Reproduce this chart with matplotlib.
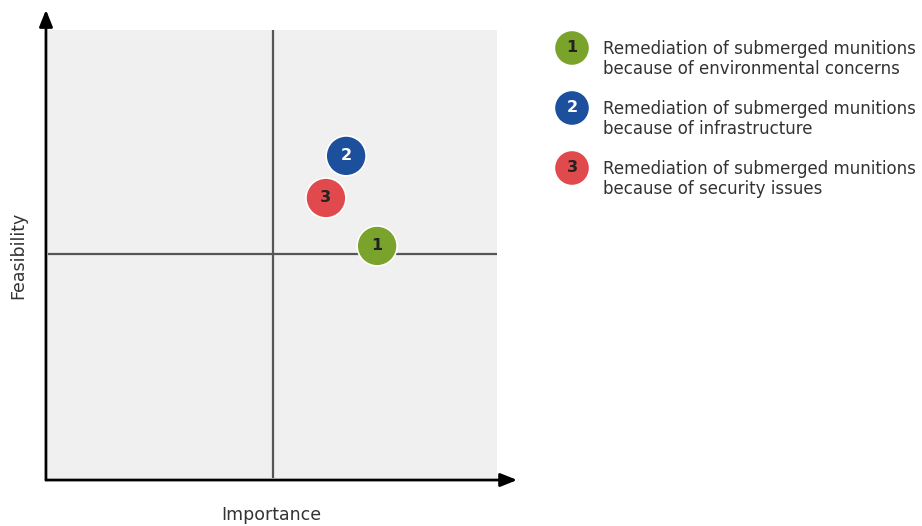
import matplotlib.pyplot as plt
from matplotlib.patches import Circle

# topic positions on the importance / feasibility grid (0-10 scale)
ids = ["1", "2", "3"]
importance = [7.33, 6.64, 6.19]
feasibility = [5.18, 7.19, 6.25]
colors = ["#79a32b", "#1c4f9c", "#e14a4d"]
text_colors = ["#222222", "white", "#222222"]
labels = [
    "Remediation of submerged munitions\nbecause of environmental concerns",
    "Remediation of submerged munitions\nbecause of infrastructure",
    "Remediation of submerged munitions\nbecause of security issues",
]

W, H = 922, 526
fig = plt.figure(figsize=(W / 100, H / 100), dpi=100)
fig.patch.set_facecolor("white")

# panel area in pixels: x 48..497, y 30..478
ax = fig.add_axes([48 / W, (H - 478) / H, 449 / W, 448 / H])
ax.set_xlim(0, 10)
ax.set_ylim(0, 10)
ax.set_facecolor("#f0f0f0")
for s in ax.spines.values():
    s.set_visible(False)
ax.set_xticks([])
ax.set_yticks([])

# quadrant lines
ax.axvline(5, color="#555555", lw=1.6, zorder=1)
ax.axhline(5, color="#555555", lw=1.6, zorder=1)

# axis arrows
arrow = dict(arrowstyle="-|>,head_length=1.0,head_width=0.4", color="black", lw=2.0,
             shrinkA=0, shrinkB=0)
ax.annotate("", xy=(-0.045, 10.45), xytext=(-0.045, -0.045), arrowprops=arrow,
            annotation_clip=False)
ax.annotate("", xy=(10.45, -0.045), xytext=(-0.045, -0.045), arrowprops=arrow,
            annotation_clip=False)

# bubbles
r = 20 / 44.9
for i, x, y, c, tc in zip(ids, importance, feasibility, colors, text_colors):
    ax.add_patch(Circle((x, y), r, facecolor=c, edgecolor="white", lw=1.2, zorder=3))
    ax.text(x, y, i, ha="center", va="center", fontsize=11.5, color=tc,
            fontweight="bold", zorder=4)

fig.text(271 / W, 1 - 515 / H, "Importance", ha="center", va="center", fontsize=12.5,
         color="#333333")
fig.text(18 / W, 1 - 255 / H, "Feasibility", rotation=90, ha="center", va="center",
         fontsize=12.5, color="#333333")

# legend
leg = fig.add_axes([0, 0, 1, 1], facecolor="none")
leg.set_xlim(0, W)
leg.set_ylim(H, 0)
leg.axis("off")
for k, (i, c, tc, lab) in enumerate(zip(ids, colors, text_colors, labels)):
    cy = 48 + k * 60
    leg.add_patch(Circle((572, cy), 17.5, facecolor=c, edgecolor="white", lw=1))
    leg.text(572, cy, i, ha="center", va="center", fontsize=11.5, color=tc,
             fontweight="bold")
    leg.text(603, cy + 11, lab, ha="left", va="center", fontsize=12, color="#333333",
             linespacing=1.1)

fig.savefig("out.png", dpi=100)
